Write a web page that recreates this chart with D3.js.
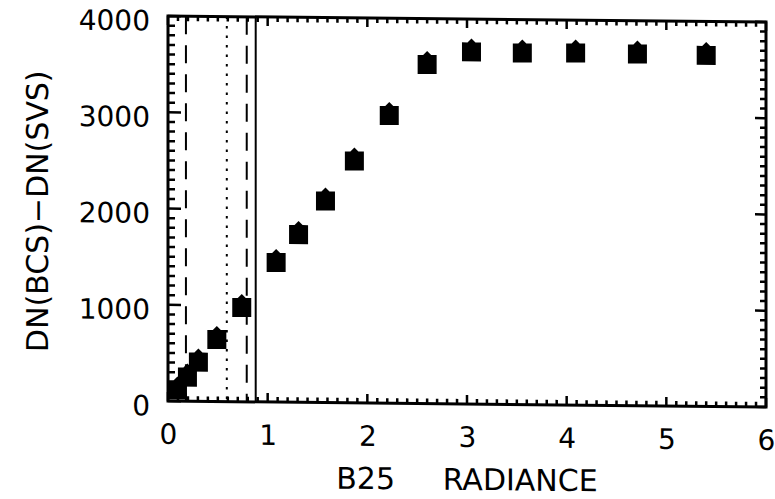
<!DOCTYPE html>
<html>
<head>
<meta charset="utf-8">
<script src="https://cdn.jsdelivr.net/npm/d3@7"></script>
<style>
  body { margin: 0; background: #fff; }
  text { font-family: "DejaVu Sans", sans-serif; fill: #000; }
</style>
</head>
<body>
<script>
// values
var radiance = [0.095, 0.195, 0.305, 0.49, 0.74, 1.085, 1.31, 1.58, 1.87, 2.22, 2.60, 3.045, 3.555, 4.09, 4.71, 5.40];
var dnDiff = [115, 251, 408, 644, 979, 1450, 1743, 2094, 2513, 2989, 3523, 3658, 3652, 3658, 3654, 3646];
var xTicks = [0, 1, 2, 3, 4, 5, 6];
var yTicks = [0, 1000, 2000, 3000, 4000];
var dashedLimits = [0.18, 0.79];
var dottedLimits = [0.59];
var solidLimits = [0.88];

const width = 775;
const height = 499;
const margin = {top: 16, bottom: 98, left: 168, right: 9};

const chartWidth = width - margin.left - margin.right;
const chartHeight = height - margin.top - margin.bottom;

const points = radiance.map((r, i) => ({x: r, y: dnDiff[i]}));

const svg = d3.select('body').append('svg')
    .attr('width', width)
    .attr('height', height);

// the scan is slightly sheared, horizontal lines drop to the right
const base = svg.append('g')
    .attr('transform', 'translate(0,-1.67) skewY(0.57)');

const xScale = d3.scaleLinear().domain([0, 6]).range([0, chartWidth]);
const yScale = d3.scaleLinear().domain([0, 4000]).range([chartHeight, 0]);

const plot = base.append('g')
    .attr('transform', `translate(${margin.left},${margin.top})`);

// tick labels from the axes
function labelStyle(g) {
  g.select('.domain').remove();
  g.selectAll('.tick line').remove();
  g.selectAll('.tick text').style('font-size', '28px');
}

plot.append('g')
    .attr('transform', `translate(0,${chartHeight})`)
    .call(d3.axisBottom(xScale).tickValues(xTicks).tickSize(0).tickPadding(23).tickFormat(d3.format('d')))
    .call(labelStyle);

const yAxisG = plot.append('g')
    .call(d3.axisLeft(yScale).tickValues(yTicks).tickSize(0).tickPadding(18).tickFormat(d3.format('d')))
    .call(labelStyle);
yAxisG.selectAll('.tick text').attr('dy', '0.5em');

// inward tick marks on all four sides, one path
const minorX = d3.range(0, 60.5, 1).map(d => d / 10);
const minorY = d3.range(0, 40.5, 1).map(d => d * 100);
const isMajorX = d => Math.abs(d - Math.round(d)) < 1e-6;
const isMajorY = d => d % 1000 === 0;

let tickPath = '';
minorX.forEach(d => {
  const px = xScale(d), len = isMajorX(d) ? 9 : 5;
  tickPath += `M${px},${chartHeight}V${chartHeight - len}M${px},0V${len}`;
});
minorY.forEach(d => {
  const py = yScale(d);
  tickPath += `M0,${py}H${isMajorY(d) ? 13 : 7}M${chartWidth},${py}H${chartWidth - (isMajorY(d) ? 11 : 6)}`;
});
plot.append('path')
    .attr('d', tickPath)
    .attr('fill', 'none')
    .attr('stroke', '#000')
    .attr('stroke-width', 2.5);

// frame
plot.append('rect')
    .attr('width', chartWidth)
    .attr('height', chartHeight)
    .attr('fill', 'none')
    .attr('stroke', '#000')
    .attr('stroke-width', 3);

// limit lines
function vline(vals, dash) {
  plot.selectAll(null).data(vals).enter().append('line')
      .attr('x1', d => xScale(d)).attr('x2', d => xScale(d))
      .attr('y1', 0).attr('y2', chartHeight)
      .attr('stroke', '#000')
      .attr('stroke-width', 2)
      .attr('stroke-dasharray', dash);
}
vline(dashedLimits, '18,11');
vline(dottedLimits, '2.5,7');
vline(solidLimits, null);

// filled square symbols with a small peak on top
const s = 9.5;
plot.selectAll('.pt').data(points).enter().append('path')
    .attr('class', 'pt')
    .attr('fill', '#000')
    .attr('d', d => {
      const cx = xScale(d.x), cy = yScale(d.y);
      return `M${cx - s},${cy - s}L${cx - 4},${cy - s}L${cx},${cy - s - 4}L${cx + 4},${cy - s}` +
             `L${cx + s},${cy - s}L${cx + s},${cy + s}L${cx - s},${cy + s}Z`;
    });

// axis titles
plot.append('text')
    .attr('x', chartWidth / 2)
    .attr('y', chartHeight + 86)
    .attr('text-anchor', 'middle')
    .style('font-size', '30px')
    .style('white-space', 'pre')
    .text('B25     RADIANCE');

plot.append('text')
    .attr('transform', `translate(${-120},${chartHeight / 2 + 4}) rotate(-90)`)
    .attr('text-anchor', 'middle')
    .style('font-size', '30px')
    .text('DN(BCS)\u2212DN(SVS)');
</script>
</body>
</html>
